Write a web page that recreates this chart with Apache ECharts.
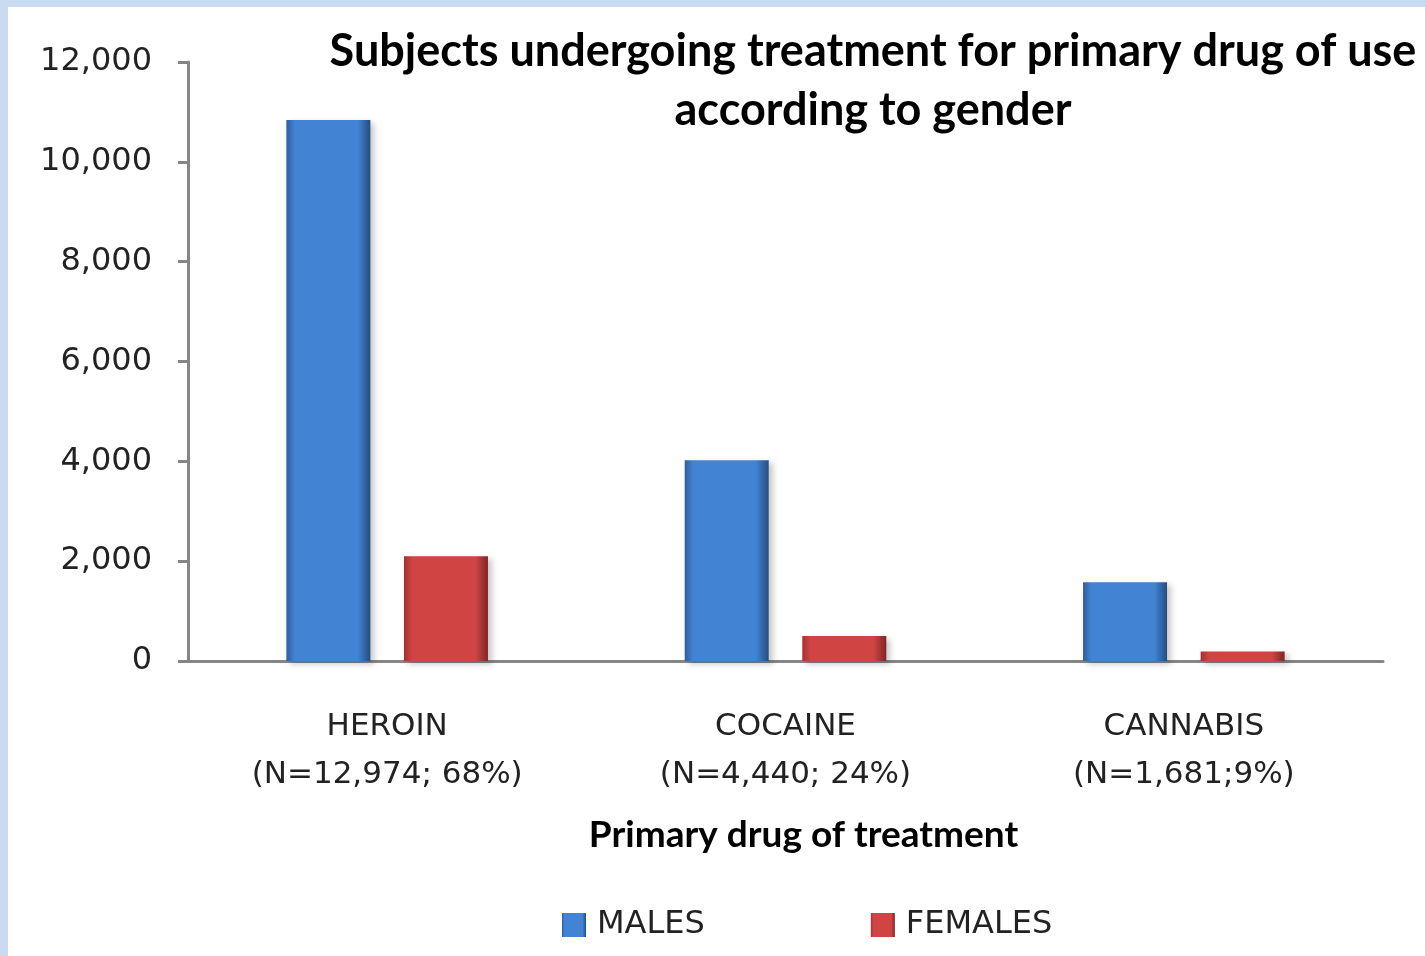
<!DOCTYPE html>
<html>
<head>
<meta charset="utf-8">
<script src="https://cdn.jsdelivr.net/npm/echarts@6/dist/echarts.min.js"></script>
<style>
	html, body {
		margin: 0;
		padding: 0;
		width: 1425px;
		height: 956px;
		overflow: hidden;
		background: #c9daf2;
	}
	#chart {
		position: absolute;
		left: 8px;
		top: 7px;
		width: 1417px;
		height: 949px;
		background: #ffffff;
	}
</style>
</head>
<body>
<div id="chart"></div>
<script>
	const categories = ['HEROIN\n(N=12,974; 68%)', 'COCAINE\n(N=4,440; 24%)', 'CANNABIS\n(N=1,681;9%)']
	const males = [10840, 4020, 1580]
	const females = [2100, 500, 190]
	const seriesNames = ['MALES', 'FEMALES']

	function bevel(edgeL, mid, edgeR) {
		return new echarts.graphic.LinearGradient(0, 0, 1, 0, [
			{ offset: 0, color: edgeL },
			{ offset: 0.1, color: mid },
			{ offset: 0.85, color: mid },
			{ offset: 1, color: edgeR }
		])
	}

	const chart = echarts.init(document.getElementById('chart'))
	const font = 'DejaVu Sans'

	let option = {
		animation: false,
		backgroundColor: '#ffffff',
		graphic: [{
			type: 'text',
			x: 865,
			y: 15,
			style: {
				text: 'Subjects undergoing treatment for primary drug of use\naccording to gender',
				font: 'bold 45px Lato',
				lineHeight: 59,
				fill: '#000',
				textAlign: 'center',
				textVerticalAlign: 'top'
			}
		}],
		grid: {
			left: 180,
			right: 42,
			top: 55,
			bottom: 295
		},
		legend: {
			left: 549,
			top: 897,
			itemWidth: 24,
			itemHeight: 24,
			itemGap: 166,
			icon: 'rect',
			textStyle: {
				fontFamily: font,
				fontSize: 32,
				color: '#222',
				padding: [0, 0, 0, 6]
			},
			data: seriesNames
		},
		xAxis: {
			type: 'category',
			data: categories,
			name: 'Primary drug of treatment',
			nameLocation: 'middle',
			nameGap: 156,
			nameTextStyle: {
				fontFamily: 'Lato',
				fontWeight: 'bold',
				fontSize: 37,
				color: '#000',
				padding: [0, 0, 0, 36]
			},
			axisLine: {
				lineStyle: { color: '#868686', width: 3 }
			},
			axisTick: {
				length: 12,
				lineStyle: { color: '#868686', width: 3 }
			},
			axisLabel: {
				margin: 42,
				fontFamily: font,
				fontSize: 31,
				lineHeight: 48,
				color: '#222'
			}
		},
		yAxis: {
			type: 'value',
			min: 0,
			max: 12000,
			interval: 2000,
			splitLine: { show: false },
			axisLine: {
				show: true,
				lineStyle: { color: '#868686', width: 3 }
			},
			axisTick: {
				show: true,
				length: 10,
				lineStyle: { color: '#868686', width: 3 }
			},
			axisLabel: {
				margin: 36,
				fontFamily: font,
				fontSize: 32,
				color: '#222',
				padding: [6, 0, 0, 0],
				formatter: v => v.toLocaleString('en-US')
			}
		},
		series: [{
			name: seriesNames[0],
			type: 'bar',
			data: males,
			barWidth: 84,
			barGap: '40%',
			itemStyle: {
				color: bevel('#2e5e9e', '#4283d3', '#264c80'),
				shadowColor: 'rgba(0,0,0,0.22)',
				shadowBlur: 6,
				shadowOffsetX: 4,
				shadowOffsetY: 3
			}
		}, {
			name: seriesNames[1],
			type: 'bar',
			data: females,
			barWidth: 84,
			itemStyle: {
				color: bevel('#a83030', '#d04444', '#7e2626'),
				shadowColor: 'rgba(0,0,0,0.22)',
				shadowBlur: 6,
				shadowOffsetX: 4,
				shadowOffsetY: 3
			}
		}]
	}
	chart.setOption(option)
</script>
</body>
</html>
